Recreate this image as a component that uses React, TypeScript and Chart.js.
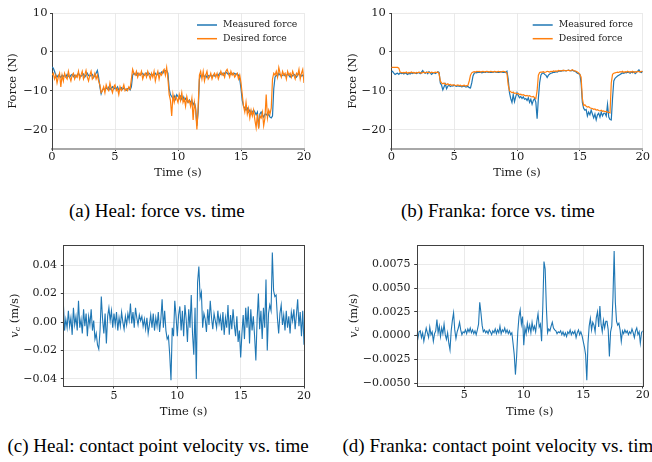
import React, { useEffect, useRef } from "react";
import { Chart, registerables } from "chart.js";

Chart.register(...registerables);

// ---------------- data ----------------
const FORCE_T0 = 0;
const FORCE_DT = 0.1;
const VEL_T0 = 1;
const VEL_DT = 0.1;

const SERIES_LABELS = ["Measured force", "Desired force"];

const HEAL_MEASURED = [
  -3.9, -4.2, -5.0, -6.0, -6.5, -6.0, -6.2, -6.6, -6.0, -6.3,
  -6.0, -6.5, -5.8, -6.2, -6.6, -6.0, -5.8, -6.4, -6.0, -6.5,
  -6.0, -5.5, -6.1, -6.3, -6.0, -5.7, -6.5, -6.0, -5.5, -6.1,
  -6.3, -6.0, -5.8, -6.6, -6.0, -5.5, -4.8, -6.5, -9.0, -10.8,
  -9.8, -9.4, -9.8, -9.2, -9.6, -9.1, -9.7, -9.3, -9.0, -9.6,
  -9.2, -9.5, -9.0, -9.8, -9.5, -9.2, -9.7, -9.3, -9.6, -9.9,
  -9.5, -9.3, -9.8, -9.0, -6.0, -5.5, -5.8, -6.0, -5.5, -5.9,
  -6.0, -5.7, -5.5, -6.1, -5.8, -5.5, -6.0, -5.5, -5.8, -6.1,
  -5.8, -6.0, -5.5, -6.0, -5.8, -5.4, -5.8, -5.2, -5.5, -4.8,
  -4.9, -4.8, -5.5, -9.5, -11.0, -11.5, -12.0, -11.3, -12.2, -11.0,
  -11.5, -12.0, -11.4, -12.2, -11.5, -12.5, -12.0, -12.6, -13.0, -12.4,
  -13.0, -12.5, -13.6, -13.0, -14.5, -19.0, -15.5, -7.0, -6.0, -6.2,
  -6.0, -6.4, -6.0, -6.6, -6.1, -6.3, -6.0, -6.4, -6.0, -6.2,
  -6.0, -5.8, -6.1, -5.5, -5.8, -5.5, -6.0, -5.5, -5.2, -5.5,
  -5.8, -5.5, -5.8, -5.5, -5.8, -5.5, -5.8, -5.6, -6.0, -7.0,
  -9.5, -12.5, -14.0, -14.5, -15.0, -14.5, -15.5, -15.0, -16.0, -15.5,
  -15.0, -15.5, -16.2, -15.5, -19.5, -16.0, -15.5, -16.2, -16.8, -16.0,
  -16.0, -16.5, -16.0, -16.8, -17.0, -16.5, -9.5, -6.5, -6.0, -6.3,
  -5.5, -6.0, -6.2, -6.0, -5.8, -6.2, -6.0, -5.8, -6.0, -6.5,
  -6.0, -6.2, -5.8, -6.0, -6.5, -6.0, -5.5, -6.0, -6.2, -6.0,
  -6.5,
];

const HEAL_DESIRED = [
  -6.0, -5.5, -7.0, -6.0, -8.0, -6.5, -5.5, -9.0, -6.0, -7.5,
  -5.5, -6.5, -7.0, -5.0, -6.5, -7.5, -6.0, -5.5, -7.0, -6.0,
  -6.5, -5.0, -7.0, -6.0, -5.0, -7.0, -6.0, -4.8, -6.5, -7.5,
  -6.0, -5.0, -7.0, -6.5, -5.5, -7.0, -6.0, -7.5, -8.5, -10.5,
  -10.0, -9.0, -10.5, -8.5, -9.5, -10.0, -8.0, -9.5, -10.5, -9.0,
  -8.5, -10.0, -9.5, -11.0, -9.0, -10.0, -9.5, -8.5, -10.0, -9.5,
  -10.0, -9.0, -9.5, -7.0, -4.5, -5.5, -6.0, -5.0, -6.5, -5.5,
  -6.0, -5.0, -7.0, -6.0, -5.5, -6.5, -5.0, -6.0, -7.0, -5.5,
  -6.5, -5.0, -7.5, -6.0, -5.0, -7.0, -5.5, -6.0, -5.0, -4.5,
  -6.0, -4.0, -7.0, -11.0, -12.5, -16.5, -11.0, -13.0, -11.5, -12.0,
  -13.0, -11.0, -12.5, -10.5, -13.0, -12.0, -14.0, -11.5, -13.0, -12.5,
  -14.0, -12.0, -17.5, -13.0, -15.0, -20.0, -14.0, -6.0, -5.0, -7.0,
  -5.0, -7.5, -6.0, -5.0, -7.0, -6.5, -5.5, -7.0, -6.0, -5.5,
  -6.5, -5.5, -7.0, -6.0, -5.0, -6.0, -5.5, -6.5, -5.0, -4.5,
  -5.5, -6.5, -5.0, -6.0, -5.5, -6.5, -6.0, -5.5, -7.0, -6.0,
  -8.0, -11.0, -14.0, -15.5, -13.0, -16.0, -14.5, -17.0, -15.0, -16.5,
  -15.0, -17.5, -19.5, -16.0, -19.8, -16.5, -17.0, -15.5, -19.0, -17.0,
  -11.0, -17.0, -15.0, -16.0, -14.5, -7.0, -5.5, -6.0, -5.0, -6.5,
  -4.0, -5.5, -6.5, -5.0, -6.0, -5.5, -7.0, -5.0, -6.0, -5.5,
  -6.5, -5.0, -6.0, -7.0, -5.5, -6.0, -4.5, -7.0, -5.5, -4.5,
  -8.0,
];

const FRANKA_MEASURED = [
  -5.2, -5.0, -5.5, -5.8, -5.6, -5.5, -5.8, -5.4, -5.6, -5.5,
  -5.7, -5.4, -5.6, -5.8, -5.5, -5.7, -5.4, -5.6, -5.3, -5.5,
  -5.6, -5.4, -5.3, -5.6, -5.2, -4.8, -5.3, -5.5, -5.2, -5.6,
  -5.1, -5.4, -5.8, -5.5, -5.3, -5.6, -5.4, -5.1, -5.3, -8.0,
  -8.6, -9.8, -9.0, -8.3, -9.5, -8.8, -8.6, -8.9, -8.7, -8.8,
  -8.6, -8.8, -8.9, -8.7, -8.9, -8.8, -9.0, -8.9, -8.8, -9.0,
  -9.0, -8.9, -9.2, -9.3, -8.0, -6.2, -5.5, -5.3, -5.4, -5.2,
  -5.3, -5.2, -5.4, -5.3, -5.2, -5.3, -5.1, -5.3, -5.2, -5.3,
  -5.2, -5.3, -5.1, -5.2, -5.3, -5.2, -5.3, -5.1, -5.2, -5.3,
  -5.2, -5.3, -5.0, -7.0, -10.5, -12.0, -13.0, -11.0, -12.8, -11.5,
  -10.5, -11.2, -11.8, -11.5, -12.0, -11.6, -12.2, -12.0, -12.5, -11.8,
  -13.0, -12.2, -13.5, -12.5, -12.0, -13.0, -17.2, -12.0, -8.0, -6.0,
  -5.5, -5.4, -5.8, -6.0, -6.6, -6.0, -5.7, -5.5, -5.4, -5.2,
  -5.3, -5.1, -5.2, -5.0, -4.9, -5.0, -4.8, -4.9, -4.8, -4.9,
  -4.8, -4.7, -4.8, -4.9, -4.7, -4.9, -5.0, -5.2, -5.5, -5.6,
  -5.8, -8.0, -13.0, -14.5, -15.0, -14.8, -16.5, -15.5, -16.2, -15.0,
  -16.0, -17.0, -16.0, -17.5, -16.2, -15.8, -16.8, -15.5, -16.5, -15.8,
  -15.8, -16.5, -13.5, -16.8, -17.4, -17.5, -12.0, -7.5, -6.8, -6.5,
  -6.2, -6.0, -5.8, -5.6, -5.4, -5.5, -5.3, -5.4, -5.2, -5.3,
  -5.5, -5.2, -5.4, -5.1, -5.6, -5.3, -5.0, -4.6, -5.2, -5.3,
  -5.0,
];

const FRANKA_DESIRED = [
  -4.0, -4.0, -4.0, -4.0, -4.0, -4.0, -4.2, -5.2, -5.3, -5.4,
  -5.3, -5.4, -5.2, -5.5, -5.3, -5.4, -5.2, -5.4, -5.3, -5.5,
  -5.3, -5.4, -5.2, -5.3, -5.5, -5.3, -5.2, -5.4, -5.3, -5.2,
  -5.3, -5.4, -5.2, -5.3, -5.4, -5.2, -5.3, -5.2, -5.6, -7.5,
  -8.0, -8.2, -8.0, -8.3, -8.4, -8.2, -8.5, -8.4, -8.6, -8.5,
  -8.5, -8.7, -8.6, -8.5, -8.7, -8.6, -8.8, -8.7, -8.6, -8.8,
  -8.7, -8.6, -7.5, -6.0, -5.4, -5.2, -5.1, -5.2, -5.0, -5.1,
  -5.0, -5.2, -5.1, -5.0, -5.2, -5.1, -5.0, -5.1, -5.2, -5.0,
  -5.1, -5.2, -5.0, -5.1, -5.2, -5.0, -5.1, -5.2, -5.1, -5.0,
  -5.1, -5.2, -5.5, -8.5, -10.0, -10.3, -10.5, -10.4, -10.7, -10.6,
  -10.8, -10.7, -11.0, -10.9, -11.1, -11.0, -11.2, -11.3, -11.2, -11.4,
  -11.3, -11.5, -11.6, -11.5, -11.8, -12.0, -10.0, -6.0, -5.3, -5.2,
  -5.2, -5.1, -5.3, -5.2, -5.0, -5.1, -5.2, -5.0, -5.1, -4.9,
  -5.0, -4.9, -5.0, -4.8, -4.9, -4.8, -4.9, -4.7, -4.8, -4.9,
  -4.8, -4.7, -4.9, -4.8, -4.6, -4.8, -4.9, -5.0, -5.2, -5.4,
  -5.8, -6.5, -12.0, -13.8, -13.6, -14.0, -14.2, -14.1, -14.4, -14.5,
  -14.6, -14.8, -14.7, -15.0, -14.9, -15.1, -15.2, -15.0, -15.3, -15.2,
  -15.4, -15.3, -15.5, -15.6, -15.7, -8.0, -5.8, -5.5, -5.4, -5.3,
  -5.2, -5.3, -5.1, -5.2, -5.0, -5.3, -5.1, -5.2, -5.0, -5.2,
  -5.1, -5.2, -5.0, -5.3, -5.1, -5.2, -5.0, -5.1, -5.2, -5.0,
  -5.1,
];

const HEAL_VELOCITY = [
  0.014, -0.006, 0.002, -0.004, 0.008, -0.003, 0.003, -0.009, 0.010, -0.002,
  0.004, -0.006, 0.015, -0.004, 0.002, -0.008, 0.009, -0.003, 0.006, -0.010,
  0.004, -0.002, 0.009, -0.006, 0.001, -0.012, -0.008, -0.016, -0.019, -0.006,
  0.018, 0.002, -0.008, 0.006, -0.015, 0.004, 0.010, 0.001, 0.008, -0.004,
  0.006, -0.002, 0.007, -0.006, 0.003, -0.003, 0.007, 0.000, -0.005, 0.004,
  -0.002, 0.006, 0.001, 0.013, -0.001, 0.007, -0.004, 0.010, 0.003, -0.002,
  0.005, 0.001, 0.004, -0.003, 0.002, -0.005, 0.003, -0.008, -0.002, 0.005,
  -0.004, 0.006, -0.006, 0.003, -0.003, 0.007, -0.007, 0.002, 0.016, -0.004,
  0.008, -0.006, -0.012, -0.010, -0.023, -0.041, -0.004, -0.010, 0.015, 0.004,
  -0.010, 0.005, 0.011, -0.006, 0.008, -0.010, 0.012, 0.002, -0.014, 0.009,
  -0.004, 0.019, -0.008, -0.023, 0.010, -0.040, 0.028, 0.039, 0.017, 0.021,
  -0.004, 0.006, 0.002, -0.007, 0.009, -0.002, 0.015, 0.003, -0.005, 0.006,
  0.001, -0.004, 0.008, -0.001, 0.004, -0.006, 0.007, -0.009, 0.003, -0.004,
  0.012, -0.009, 0.005, -0.005, 0.009, -0.002, -0.010, 0.004, -0.014, -0.006,
  -0.025, -0.008, 0.005, -0.012, 0.010, -0.004, 0.011, -0.015, 0.009, -0.006,
  0.004, -0.010, -0.027, 0.002, 0.020, -0.005, 0.008, -0.012, 0.010, -0.004,
  0.030, -0.020, 0.006, 0.012, 0.008, 0.049, 0.022, 0.018, 0.019, 0.003,
  -0.008, 0.006, 0.012, -0.002, 0.005, -0.006, 0.008, -0.004, 0.004, -0.008,
  0.007, 0.001, 0.009, -0.005, 0.005, 0.016, -0.003, 0.007, -0.010, 0.008,
  -0.016,
];

const FRANKA_VELOCITY = [
  0.0002, -0.0003, 0.0004, 0.0005, -0.0002, 0.0003, -0.0006, 0.0001, 0.0008, 0.0003,
  -0.0002, 0.0009, 0.0001, 0.0004, -0.0006, 0.0002, 0.0005, 0.0017, 0.0003, 0.0010,
  -0.0001, 0.0008, 0.0002, 0.0012, 0.0001, -0.0004, 0.0003, -0.0008, -0.0015, 0.0005,
  0.0016, 0.0024, 0.0006, -0.0003, 0.0004, 0.0008, 0.0014, 0.0006, 0.0001, 0.0004,
  0.0003, 0.0006, 0.0002, 0.0007, 0.0004, 0.0008, 0.0003, 0.0006, 0.0002, 0.0005,
  0.0001, 0.0006, 0.0012, 0.0035, 0.0024, 0.0011, 0.0004, 0.0006, 0.0003, 0.0005,
  0.0002, 0.0006, 0.0004, 0.0001, 0.0005, 0.0003, 0.0007, 0.0002, 0.0006, 0.0003,
  0.0010, 0.0002, 0.0006, 0.0004, 0.0008, 0.0003, 0.0006, 0.0002, 0.0005, 0.0001,
  0.0003, -0.0008, -0.0020, -0.0041, -0.0022, 0.0004, 0.0020, 0.0027, 0.0012, 0.0020,
  -0.0010, 0.0008, 0.0002, 0.0013, 0.0005, 0.0011, 0.0003, 0.0014, 0.0006, 0.0010,
  0.0004, 0.0015, 0.0023, 0.0009, 0.0012, -0.0006, 0.0030, 0.0078, 0.0070, 0.0030,
  0.0003, 0.0007, 0.0005, 0.0010, 0.0014, 0.0008, 0.0006, 0.0005, 0.0002, 0.0004,
  0.0003, 0.0005, 0.0001, 0.0004, 0.0000, 0.0003, -0.0001, 0.0004, 0.0002, 0.0006,
  0.0001, 0.0004, 0.0002, 0.0005, -0.0002, 0.0003, 0.0006, 0.0001, 0.0004, 0.0000,
  -0.0006, -0.0012, -0.0020, -0.0047, -0.0008, 0.0010, 0.0018, 0.0006, 0.0014, 0.0011,
  0.0004, 0.0019, 0.0025, 0.0009, 0.0031, 0.0012, 0.0004, 0.0016, 0.0008, 0.0015,
  0.0015, 0.0006, -0.0022, 0.0004, 0.0010, 0.0040, 0.0089, 0.0035, 0.0015, 0.0011,
  0.0013, 0.0006, -0.0006, 0.0005, 0.0002, 0.0006, 0.0003, 0.0005, 0.0001, 0.0004,
  0.0002, 0.0007, 0.0003, -0.0002, 0.0005, 0.0008, 0.0001, 0.0004, -0.0008, 0.0003,
  0.0005,
];

const FORCE_X_TICKS = [0, 5, 10, 15, 20];
const FORCE_Y_TICKS = [-20, -10, 0, 10];
const VEL_X_TICKS = [5, 10, 15, 20];
const HEAL_VEL_Y_TICKS = [-0.04, -0.02, 0, 0.02, 0.04];
const FRANKA_VEL_Y_TICKS = [-0.005, -0.0025, 0, 0.0025, 0.005, 0.0075];

const CAPTIONS = [
  "(a) Heal: force vs. time",
  "(b) Franka: force vs. time",
  "(c) Heal: contact point velocity vs. time",
  "(d) Franka: contact point velocity vs. time",
];

// ---------------- style ----------------
const BLUE = "#1f77b4";
const ORANGE = "#ff7f0e";
const SPINE = "#404040";
const BOTTOM_SPINE = "#a8a8a8";
const GRID = "#e8e8e8";
const TEXT = "#1a1a1a";
const FONT = "'DejaVu Serif', serif";

function toPoints(values: number[], t0: number, dt: number) {
  return values.map((v, i) => ({ x: Math.round((t0 + i * dt) * 100) / 100, y: v }));
}

function fmt(v: number, dec: number) {
  const s = Math.abs(v).toFixed(dec);
  return (v < 0 && Number(s) !== 0 ? "\u2212" : "") + s;
}

const legendPlugin = {
  id: "lineLegend",
  afterDraw(chart: any, _args: any, opts: any) {
    if (!opts || !opts.show) return;
    const ctx = chart.ctx;
    ctx.save();
    chart.data.datasets.forEach((ds: any, i: number) => {
      const y = opts.y + i * opts.dy;
      ctx.strokeStyle = ds.borderColor;
      ctx.lineWidth = 1.5;
      ctx.beginPath();
      ctx.moveTo(opts.x, y);
      ctx.lineTo(opts.x + opts.len, y);
      ctx.stroke();
      ctx.fillStyle = TEXT;
      ctx.font = `${opts.size}px ${FONT}`;
      ctx.textBaseline = "middle";
      ctx.textAlign = "left";
      ctx.fillText(ds.label, opts.x + opts.len + opts.gap, y);
    });
    ctx.restore();
  },
};

const framePlugin = {
  id: "frameBox",
  afterDraw(chart: any, _args: any, opts: any) {
    if (!opts || !opts.show) return;
    const { left, top, right, bottom } = chart.chartArea;
    const ctx = chart.ctx;
    ctx.save();
    ctx.strokeStyle = SPINE;
    ctx.lineWidth = 1;
    const l = Math.round(left) + 0.5;
    const t = Math.round(top) + 0.5;
    const r = Math.round(right) + 0.5;
    const b = Math.round(bottom) + 0.5;
    ctx.strokeRect(l, t, r - l, b - t);
    ctx.restore();
  },
};

const mathTitlePlugin = {
  id: "mathTitle",
  afterDraw(chart: any, _args: any, opts: any) {
    if (!opts || !opts.show) return;
    const ctx = chart.ctx;
    const { top, bottom } = chart.chartArea;
    const cy = (top + bottom) / 2;
    const segs = [
      { text: "v", font: `italic ${opts.size}px ${FONT}`, dy: 0 },
      { text: "c", font: `italic ${opts.size * 0.7}px ${FONT}`, dy: opts.size * 0.22 },
      { text: " (m/s)", font: `${opts.size}px ${FONT}`, dy: 0 },
    ];
    ctx.save();
    ctx.translate(opts.x, cy);
    ctx.rotate(-Math.PI / 2);
    ctx.fillStyle = TEXT;
    ctx.textBaseline = "middle";
    ctx.textAlign = "left";
    let total = 0;
    const widths = segs.map((s) => {
      ctx.font = s.font;
      const w = ctx.measureText(s.text).width;
      total += w;
      return w;
    });
    let x = -total / 2;
    segs.forEach((s, i) => {
      ctx.font = s.font;
      ctx.fillText(s.text, x, s.dy);
      x += widths[i];
    });
    ctx.restore();
  },
};

type Panel = {
  key: string;
  left: number;
  top: number;
  width: number;
  height: number;
  padTop: number;
  padRight: number;
  yAxisWidth: number;
  xAxisHeight: number;
  xMin: number;
  xMax: number;
  yMin: number;
  yMax: number;
  xTicks: number[];
  yTicks: number[];
  yDec: number;
  tickSize: number;
  titleSize: number;
  xTickPad: number;
  yTickPad: number;
  tickLen: number;
  xTitlePadBottom: number;
  yTitlePadTop: number;
  yTitle: string | null;
  mathTitleX: number;
  framed: boolean;
  legend: any;
  datasets: any[];
};

function forceDatasets(measured: number[], desired: number[]) {
  return [
    {
      label: SERIES_LABELS[0],
      data: toPoints(measured, FORCE_T0, FORCE_DT),
      borderColor: BLUE,
      borderWidth: 1.2,
      pointRadius: 0,
      tension: 0,
      fill: false,
      order: 1,
    },
    {
      label: SERIES_LABELS[1],
      data: toPoints(desired, FORCE_T0, FORCE_DT),
      borderColor: ORANGE,
      borderWidth: 1.2,
      pointRadius: 0,
      tension: 0,
      fill: false,
      order: 0,
    },
  ];
}

function velDatasets(values: number[]) {
  return [
    {
      label: "v_c",
      data: toPoints(values, VEL_T0, VEL_DT),
      borderColor: BLUE,
      borderWidth: 1.1,
      pointRadius: 0,
      tension: 0,
      fill: false,
    },
  ];
}

const PANELS: Panel[] = [
  {
    key: "a", left: 0, top: 0, width: 326, height: 190,
    padTop: 13, padRight: 22, yAxisWidth: 52, xAxisHeight: 41,
    xMin: 0, xMax: 20, yMin: -25, yMax: 10,
    xTicks: FORCE_X_TICKS, yTicks: FORCE_Y_TICKS, yDec: 0,
    tickSize: 11.5, titleSize: 11.5, xTickPad: -1, yTickPad: 2.5, tickLen: 2,
    xTitlePadBottom: 9.8, yTitlePadTop: 6.4, yTitle: "Force (N)", mathTitleX: 0,
    framed: false,
    legend: { show: true, x: 197, y: 25, dy: 13.7, len: 20, gap: 6, size: 9.3 },
    datasets: forceDatasets(HEAL_MEASURED, HEAL_DESIRED),
  },
  {
    key: "b", left: 326, top: 0, width: 326, height: 190,
    padTop: 13, padRight: 9.3, yAxisWidth: 65.3, xAxisHeight: 41,
    xMin: 0, xMax: 20, yMin: -25, yMax: 10,
    xTicks: FORCE_X_TICKS, yTicks: FORCE_Y_TICKS, yDec: 0,
    tickSize: 11.5, titleSize: 11.5, xTickPad: -1, yTickPad: 3.5, tickLen: 2,
    xTitlePadBottom: 9.8, yTitlePadTop: 19.8, yTitle: "Force (N)", mathTitleX: 0,
    framed: false,
    legend: { show: true, x: 206.7, y: 25, dy: 13.7, len: 20, gap: 6, size: 9.3 },
    datasets: forceDatasets(FRANKA_MEASURED, FRANKA_DESIRED),
  },
  {
    key: "c", left: 0, top: 230, width: 326, height: 200,
    padTop: 15.3, padRight: 22, yAxisWidth: 63.3, xAxisHeight: 44,
    xMin: 1, xMax: 20, yMin: -0.045, yMax: 0.054,
    xTicks: VEL_X_TICKS, yTicks: HEAL_VEL_Y_TICKS, yDec: 2,
    tickSize: 11, titleSize: 11.5, xTickPad: 0.8, yTickPad: 3.8, tickLen: 2.5,
    xTitlePadBottom: 11.4, yTitlePadTop: 0, yTitle: null, mathTitleX: 15,
    framed: true,
    legend: { show: false },
    datasets: velDatasets(HEAL_VELOCITY),
  },
  {
    key: "d", left: 326, top: 230, width: 326, height: 200,
    padTop: 15.3, padRight: 9.3, yAxisWidth: 90.7, xAxisHeight: 44,
    xMin: 1, xMax: 20, yMin: -0.0053, yMax: 0.0095,
    xTicks: VEL_X_TICKS, yTicks: FRANKA_VEL_Y_TICKS, yDec: 4,
    tickSize: 11, titleSize: 11.5, xTickPad: 0, yTickPad: 3.8, tickLen: 2.5,
    xTitlePadBottom: 11.4, yTitlePadTop: 0, yTitle: null, mathTitleX: 28,
    framed: true,
    legend: { show: false },
    datasets: velDatasets(FRANKA_VELOCITY),
  },
];

function makeConfig(p: Panel): any {
  const tickFont = { family: FONT, size: p.tickSize };
  const titleFont = { family: FONT, size: p.titleSize };
  return {
    type: "line",
    data: { datasets: p.datasets },
    plugins: [legendPlugin, framePlugin, mathTitlePlugin],
    options: {
      animation: false,
      responsive: false,
      devicePixelRatio: 1,
      events: [],
      parsing: false,
      layout: { padding: { left: 0, top: p.padTop, right: p.padRight, bottom: 0 } },
      plugins: {
        legend: { display: false },
        tooltip: { enabled: false },
        title: { display: false },
        lineLegend: p.legend,
        frameBox: { show: p.framed },
        mathTitle: { show: !p.yTitle, x: p.mathTitleX, size: p.titleSize },
      },
      scales: {
        x: {
          type: "linear",
          min: p.xMin,
          max: p.xMax,
          afterBuildTicks: (s: any) => {
            s.ticks = p.xTicks.map((v) => ({ value: v }));
          },
          afterFit: (s: any) => {
            s.height = p.xAxisHeight;
          },
          ticks: {
            font: tickFont,
            color: TEXT,
            padding: p.xTickPad,
            maxRotation: 0,
            autoSkip: false,
            callback: (v: number) => fmt(v, 0),
          },
          grid: {
            color: GRID,
            lineWidth: 0.9,
            tickLength: p.tickLen,
            tickColor: SPINE,
            tickWidth: 1,
          },
          border: p.framed
            ? { display: false }
            : { display: true, color: BOTTOM_SPINE, width: 2 },
          title: {
            display: true,
            text: "Time (s)",
            font: titleFont,
            color: TEXT,
            padding: { top: 0, bottom: p.xTitlePadBottom },
          },
        },
        y: {
          type: "linear",
          min: p.yMin,
          max: p.yMax,
          afterBuildTicks: (s: any) => {
            s.ticks = p.yTicks.map((v) => ({ value: v }));
          },
          afterFit: (s: any) => {
            s.width = p.yAxisWidth;
          },
          ticks: {
            font: tickFont,
            color: TEXT,
            padding: p.yTickPad,
            autoSkip: false,
            callback: (v: number) => fmt(v, p.yDec),
          },
          grid: {
            color: GRID,
            lineWidth: 0.9,
            tickLength: p.tickLen,
            tickColor: SPINE,
            tickWidth: 1,
          },
          border: p.framed
            ? { display: false }
            : { display: true, color: SPINE, width: 1 },
          title: {
            display: !!p.yTitle,
            text: p.yTitle || "",
            font: titleFont,
            color: TEXT,
            padding: { top: p.yTitlePadTop, bottom: 0 },
          },
        },
      },
    },
  };
}

function ChartPanel({ panel }: { panel: Panel }) {
  const ref = useRef<HTMLCanvasElement | null>(null);
  useEffect(() => {
    if (!ref.current) return;
    const chart = new Chart(ref.current, makeConfig(panel));
    return () => chart.destroy();
  }, [panel]);
  return (
    <canvas
      ref={ref}
      width={panel.width}
      height={panel.height}
      style={{
        position: "absolute",
        left: panel.left,
        top: panel.top,
        width: panel.width,
        height: panel.height,
      }}
    />
  );
}

const CAPTION_POS = [
  { left: 69, top: 201 },
  { left: 401, top: 201 },
  { left: 7.5, top: 436 },
  { left: 342.5, top: 436 },
];

export default function App() {
  return (
    <div
      style={{
        position: "absolute",
        left: 0,
        top: 0,
        width: 652,
        height: 462,
        overflow: "hidden",
        background: "#ffffff",
      }}
    >
      {PANELS.map((p) => (
        <ChartPanel key={p.key} panel={p} />
      ))}
      {CAPTIONS.map((c, i) => (
        <div
          key={c}
          style={{
            position: "absolute",
            left: CAPTION_POS[i].left,
            top: CAPTION_POS[i].top,
            fontFamily: "'Liberation Serif', 'Times New Roman', serif",
            fontSize: 19,
            lineHeight: "19px",
            color: "#000",
            whiteSpace: "nowrap",
          }}
        >
          {c}
        </div>
      ))}
    </div>
  );
}
